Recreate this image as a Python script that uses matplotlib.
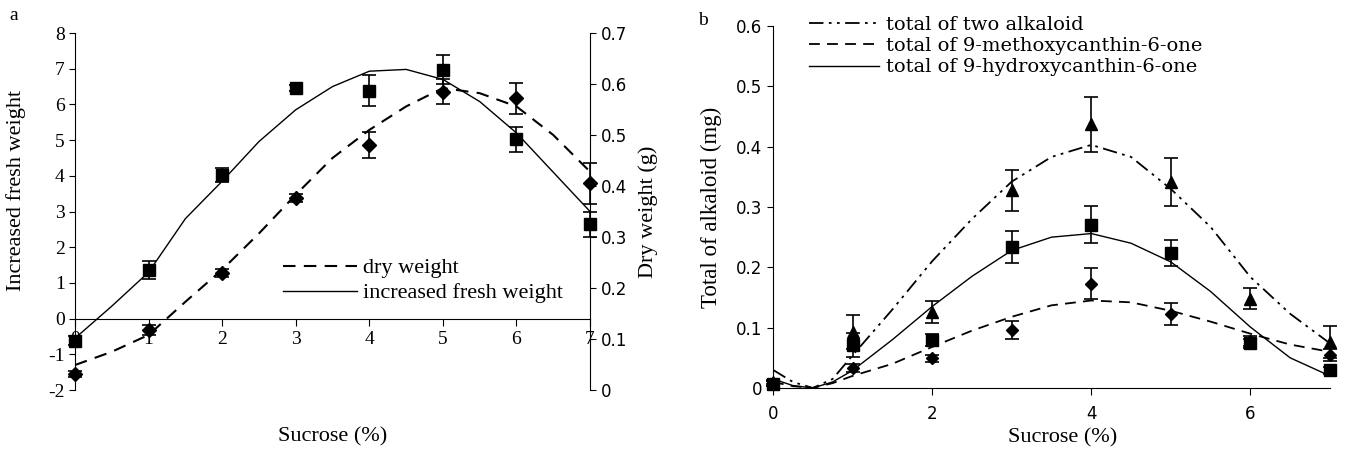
import numpy as np
import matplotlib
matplotlib.use('Agg')
import matplotlib.pyplot as plt

plt.rcParams['font.family'] = ['Liberation Serif', 'DejaVu Serif']
plt.rcParams['axes.unicode_minus'] = False
plt.rcParams['font.size'] = 14

# ---- panel a data ----
sucrose = [0, 1, 2, 3, 4, 5, 6, 7]
fresh_weight = [-0.62, 1.36, 4.03, 6.46, 6.38, 6.97, 5.02, 2.64]
fresh_err = [0.12, 0.25, 0.2, 0.08, 0.43, 0.4, 0.35, 0.35]
dry_weight = [0.031, 0.118, 0.230, 0.376, 0.480, 0.585, 0.572, 0.405]
dry_err = [0.006, 0.01, 0.008, 0.008, 0.026, 0.024, 0.03, 0.04]

curve_x = [0, 0.5, 1, 1.5, 2, 2.5, 3, 3.5, 4, 4.5, 5, 5.5, 6, 6.5, 7]
fresh_fit = [-0.55, 0.35, 1.3, 2.8, 3.85, 4.96, 5.85, 6.5, 6.93, 6.98, 6.7, 6.08, 5.2, 4.1, 3.0]
dry_fit = [0.049, 0.075, 0.108, 0.173, 0.236, 0.307, 0.383, 0.455, 0.51, 0.556, 0.592,
           0.582, 0.556, 0.50, 0.428]

# ---- panel b data ----
total_two = [0.01, 0.093, 0.126, 0.328, 0.437, 0.342, 0.148, 0.076]
total_two_err = [0.004, 0.028, 0.018, 0.034, 0.045, 0.04, 0.017, 0.026]
methoxy = [0.007, 0.033, 0.049, 0.096, 0.173, 0.123, 0.078, 0.055]
methoxy_err = [0.004, 0.006, 0.006, 0.015, 0.026, 0.018, 0.008, 0.01]
hydroxy = [0.007, 0.071, 0.079, 0.234, 0.271, 0.224, 0.074, 0.029]
hydroxy_err = [0.004, 0.02, 0.01, 0.026, 0.03, 0.022, 0.008, 0.006]

curve_xb = [0, 0.25, 0.5, 0.75, 1, 1.5, 2, 2.5, 3, 3.5, 4, 4.5, 5, 5.5, 6, 6.5, 7]
two_fit = [0.03, 0.01, 0.0, 0.015, 0.054, 0.13, 0.21, 0.28, 0.342, 0.383, 0.403, 0.383,
           0.33, 0.267, 0.184, 0.123, 0.074]
hydroxy_fit = [0.015, 0.004, 0.0, 0.01, 0.029, 0.08, 0.135, 0.185, 0.228, 0.25, 0.256,
               0.24, 0.209, 0.16, 0.101, 0.05, 0.02]
methoxy_fit = [0.01, 0.003, 0.0, 0.008, 0.02, 0.04, 0.068, 0.095, 0.118, 0.137, 0.145,
               0.142, 0.128, 0.11, 0.09, 0.072, 0.06]

SANS = 'DejaVu Sans'

fig = plt.figure(figsize=(13.45, 4.49), dpi=100)

# ===== panel a =====
ax = fig.add_axes([0.0558, 0.1314, 0.3829, 0.7951])
ax2 = ax.twinx()

ax.plot(curve_x, fresh_fit, '-', color='black', lw=1.0, label='increased fresh weight')
ax2.plot(curve_x, dry_fit, '--', color='black', lw=1.5, dashes=(6, 4), label='dry weight')
ax.errorbar(sucrose, fresh_weight, yerr=fresh_err, fmt='s', color='black', ms=9,
            capsize=5, elinewidth=1.2, capthick=1.2, clip_on=False)
ax2.errorbar(sucrose, dry_weight, yerr=dry_err, fmt='D', color='black', ms=7,
             capsize=5, elinewidth=1.2, capthick=1.2, clip_on=False)

ax.set_xlim(0, 7)
ax.set_ylim(-2, 8)
ax2.set_ylim(0, 0.7)
ax.set_yticks(range(-2, 9))
ax2.set_yticks(np.arange(0, 0.71, 0.1))
ax2.set_yticklabels(['0', '0.1', '0.2', '0.3', '0.4', '0.5', '0.6', '0.7'],
                    family=SANS, fontsize=12)
ax.set_xticks(sucrose)
ax.spines['bottom'].set_position(('data', 0))
ax.spines['top'].set_visible(False)
ax2.spines['top'].set_visible(False)
ax2.spines['bottom'].set_visible(False)
ax2.spines['left'].set_visible(False)
ax.spines['right'].set_visible(False)
ax.tick_params(axis='x', pad=4, length=5)
ax.tick_params(axis='y', length=4)
ax2.tick_params(axis='y', length=4)
ax.set_ylabel('Increased fresh weight', fontsize=16)
ax.yaxis.set_label_coords(-0.095, 0.56)
ax2.set_ylabel('Dry weight (g)', fontsize=16, labelpad=8)
fig.text(0.247, 0.027, 'Sucrose (%)', ha='center', va='center', fontsize=16)

handles = [ax2.get_lines()[0], ax.get_lines()[0]]
ax2.legend(handles, [h.get_label() for h in handles], loc='upper left',
           bbox_to_anchor=(0.387, 0.395), borderaxespad=0, frameon=False,
           handlelength=3.3, handletextpad=0.3, labelspacing=0.2, fontsize=16)
fig.text(0.007, 0.955, 'a', fontsize=14)

# ===== panel b =====
bx = fig.add_axes([0.5747, 0.1359, 0.4141, 0.8061])
bx.plot(curve_xb, two_fit, color='black', lw=1.3, dashes=(8, 3, 1.5, 3, 1.5, 3),
        label='total of two alkaloid')
bx.plot(curve_xb, methoxy_fit, color='black', lw=1.3, dashes=(6, 4),
        label='total of 9-methoxycanthin-6-one')
bx.plot(curve_xb, hydroxy_fit, '-', color='black', lw=1.0,
        label='total of 9-hydroxycanthin-6-one')
bx.errorbar(sucrose, total_two, yerr=total_two_err, fmt='^', color='black', ms=8,
            capsize=5, elinewidth=1.2, capthick=1.2, clip_on=False)
bx.errorbar(sucrose, hydroxy, yerr=hydroxy_err, fmt='s', color='black', ms=8,
            capsize=5, elinewidth=1.2, capthick=1.2, clip_on=False)
bx.errorbar(sucrose, methoxy, yerr=methoxy_err, fmt='D', color='black', ms=6,
            capsize=5, elinewidth=1.2, capthick=1.2, clip_on=False)

bx.set_xlim(0, 7)
bx.set_ylim(0, 0.6)
bx.set_xticks([0, 2, 4, 6])
bx.set_xticklabels(['0', '2', '4', '6'], family=SANS, fontsize=12)
bx.set_yticks(np.arange(0, 0.61, 0.1))
bx.set_yticklabels(['0', '0.1', '0.2', '0.3', '0.4', '0.5', '0.6'],
                   family=SANS, fontsize=12)
bx.spines['top'].set_visible(False)
bx.spines['right'].set_visible(False)
bx.tick_params(axis='x', pad=7, length=5)
bx.tick_params(axis='y', length=4)
bx.set_ylabel('Total of alkaloid (mg)', fontsize=16.5, labelpad=10)
bx.set_xlabel('Sucrose (%)', fontsize=16)
bx.xaxis.set_label_coords(0.52, -0.112)
bx.legend(loc='upper left', bbox_to_anchor=(0.05, 1.05), borderaxespad=0,
          frameon=False, handlelength=3.6, handletextpad=0.4, labelspacing=0.17,
          prop={'family': 'DejaVu Serif', 'size': 14})
fig.text(0.519, 0.945, 'b', fontsize=14)

plt.savefig('out.png', dpi=100)
